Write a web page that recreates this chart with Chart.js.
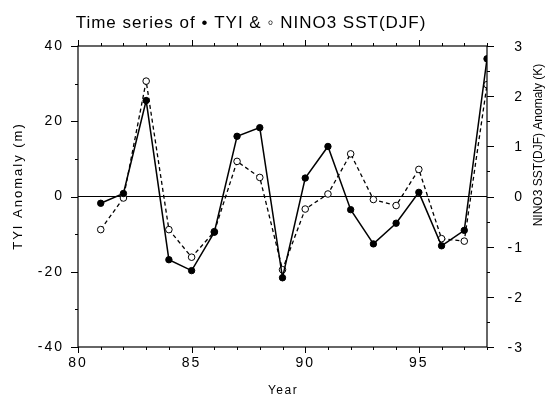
<!DOCTYPE html>
<html>
<head>
<meta charset="utf-8">
<script src="https://cdn.jsdelivr.net/npm/chart.js@4.4.0/dist/chart.umd.min.js"></script>
<style>
  html, body { margin: 0; padding: 0; background: #fff; }
  #wrap { width: 546px; height: 401px; position: relative; }
</style>
</head>
<body>
<div id="wrap"><canvas id="tsChart"></canvas></div>
<script>
// years (19xx) and the two anomaly series
const years = [81, 82, 83, 84, 85, 86, 87, 88, 89, 90, 91, 92, 93, 94, 95, 96, 97, 98];
const tyiAnom = [-1.8, 0.8, 25.5, -16.8, -19.7, -9.5, 16.0, 18.3, -21.6, 4.9, 13.3, -3.5, -12.6, -7.1, 1.1, -13.1, -9.0, 36.6];
const ninoAnom = [-0.66, -0.03, 2.30, -0.66, -1.21, -0.70, 0.70, 0.38, -1.46, -0.25, 0.05, 0.85, -0.06, -0.18, 0.54, -0.84, -0.89, 2.23];
const yearTicks = [80, 85, 90, 95];
const sstTicks = [-3, -2, -1, 0, 1, 2, 3];

const fontName = "'Liberation Sans', Arial, sans-serif";

// frame, outward ticks, zero line and labels drawn around the chart.js axes
const decor = {
  id: "decor",
  beforeDraw(chart) {
    // wider spacing for the tick labels, like the original plot
    chart.ctx.letterSpacing = "2px";
  },
  beforeDatasetsDraw(chart) {
    const { ctx, chartArea: a, scales } = chart;
    const y0 = scales.y.getPixelForValue(0);
    ctx.save();
    ctx.strokeStyle = "#000";
    ctx.lineWidth = 1;
    ctx.beginPath();
    ctx.moveTo(a.left, y0);
    ctx.lineTo(a.right, y0);
    ctx.stroke();
    ctx.restore();
  },
  afterDraw(chart) {
    const { ctx, chartArea: a, scales } = chart;
    ctx.save();
    ctx.strokeStyle = "#000";
    ctx.lineWidth = 1.2;
    ctx.strokeRect(a.left, a.top, a.right - a.left, a.bottom - a.top);

    ctx.lineWidth = 1;
    ctx.beginPath();
    // year ticks, top and bottom
    for (let v = 80; v <= 98; v++) {
      const x = Math.round(scales.x.getPixelForValue(v)) + 0.5;
      const len = v % 5 === 0 ? 6 : 3;
      ctx.moveTo(x, a.top); ctx.lineTo(x, a.top - len);
      ctx.moveTo(x, a.bottom); ctx.lineTo(x, a.bottom + len);
    }
    // left axis ticks
    for (let v = -40; v <= 40; v += 10) {
      const y = Math.round(scales.y.getPixelForValue(v)) + 0.5;
      const len = v % 20 === 0 ? 7 : 3;
      ctx.moveTo(a.left, y); ctx.lineTo(a.left - len, y);
    }
    // right axis ticks
    for (let v = -3; v <= 3; v += 0.5) {
      const y = Math.round(scales.y2.getPixelForValue(v)) + 0.5;
      const len = Number.isInteger(v) ? 7 : 3;
      ctx.moveTo(a.right, y); ctx.lineTo(a.right + len, y);
    }
    ctx.stroke();

    ctx.fillStyle = "#000";
    // right axis labels, right-aligned
    ctx.font = "14px " + fontName;
    ctx.letterSpacing = "2px";
    ctx.textAlign = "right";
    ctx.textBaseline = "middle";
    sstTicks.forEach(v => {
      ctx.fillText(String(v), 524, scales.y2.getPixelForValue(v) + 1);
    });

    // title
    ctx.font = "17px " + fontName;
    ctx.letterSpacing = "1px";
    ctx.textAlign = "center";
    ctx.textBaseline = "alphabetic";
    ctx.fillText("Time series of \u2022 TYI & \u25E6 NINO3 SST(DJF)", 251, 28);

    // axis titles
    ctx.font = "12px " + fontName;
    ctx.letterSpacing = "1.5px";
    ctx.textBaseline = "middle";
    ctx.fillText("Year", 283, 391);

    ctx.save();
    ctx.font = "13px " + fontName;
    ctx.letterSpacing = "2px";
    ctx.translate(18, 186);
    ctx.rotate(-Math.PI / 2);
    ctx.fillText("TYI Anomaly (m)", 0, 0);
    ctx.restore();

    ctx.save();
    ctx.letterSpacing = "0px";
    ctx.translate(539, 145);
    ctx.rotate(-Math.PI / 2);
    ctx.fillText("NINO3 SST(DJF) Anomaly (K)", 0, 0);
    ctx.restore();

    ctx.restore();
  }
};

const ctx = document.getElementById("tsChart").getContext("2d");

new Chart(ctx, {
  type: "line",
  data: {
    datasets: [
      {
        label: "TYI",
        data: years.map((yr, i) => ({ x: yr, y: tyiAnom[i] })),
        yAxisID: "y",
        borderColor: "#000",
        borderWidth: 1.5,
        pointRadius: 3.2,
        pointBackgroundColor: "#000",
        pointBorderColor: "#000",
        pointBorderWidth: 1,
        tension: 0,
        fill: false
      },
      {
        label: "NINO3 SST",
        data: years.map((yr, i) => ({ x: yr, y: ninoAnom[i] })),
        yAxisID: "y2",
        borderColor: "#000",
        borderWidth: 1.3,
        borderDash: [4, 3],
        pointRadius: 3.3,
        pointBackgroundColor: "#fff",
        pointBorderColor: "#000",
        pointBorderWidth: 1,
        tension: 0,
        fill: false
      }
    ]
  },
  options: {
    responsive: true,
    maintainAspectRatio: false,
    animation: false,
    layout: { padding: { top: 46, right: 22, bottom: 0, left: 0 } },
    plugins: {
      legend: { display: false },
      title: { display: false },
      tooltip: { enabled: false }
    },
    scales: {
      x: {
        type: "linear",
        min: 80,
        max: 98,
        afterFit: s => { s.height = 54; },
        afterBuildTicks: s => { s.ticks = yearTicks.map(v => ({ value: v })); },
        grid: { display: false, drawTicks: false },
        border: { display: false },
        ticks: { padding: 8, color: "#000", font: { family: fontName, size: 14 } }
      },
      y: {
        position: "left",
        min: -40,
        max: 40,
        afterFit: s => { s.width = 78; },
        grid: { display: false, drawTicks: false },
        border: { display: false },
        ticks: { stepSize: 20, padding: 14, color: "#000", font: { family: fontName, size: 14 } }
      },
      y2: {
        position: "right",
        min: -3,
        max: 3,
        afterFit: s => { s.width = 37; },
        grid: { display: false, drawTicks: false },
        border: { display: false },
        ticks: { display: false, stepSize: 1 }
      }
    }
  },
  plugins: [decor]
});
</script>
</body>
</html>
